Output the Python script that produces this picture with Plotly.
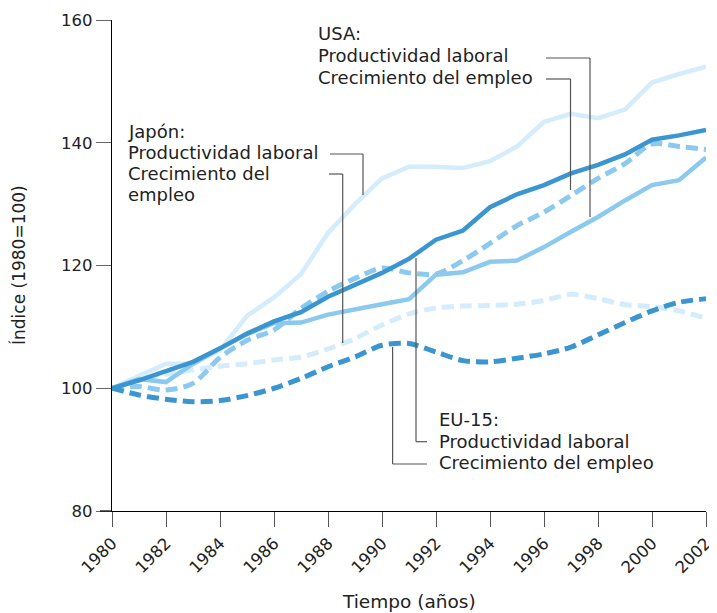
import plotly.graph_objects as go

years = list(range(1980, 2003))

# Japón
jp_productividad = [100, 102, 104, 104, 106.2, 111.8, 114.8, 118.6, 125.3, 130, 134.2, 136.1,
                    136.1, 135.9, 137, 139.4, 143.4, 144.7, 144, 145.4, 149.8, 151.2, 152.4]
jp_empleo = [100, 101.3, 102.3, 103, 103.6, 104, 104.6, 105.1, 106.4, 108.1, 110.3, 112.1,
             113.1, 113.4, 113.5, 113.7, 114.3, 115.3, 114.6, 113.6, 113.3, 112.6, 111.4]
# USA
us_productividad = [100, 101.5, 101, 104, 106.5, 108.8, 110.6, 110.7, 112, 112.9, 113.7, 114.5,
                    118.5, 118.9, 120.6, 120.8, 123, 125.5, 127.9, 130.6, 133.1, 133.9, 137.6]
us_empleo = [100, 100.3, 99.7, 100.8, 105, 107.8, 109.5, 113, 115.8, 117.9, 119.6, 118.8,
             118.6, 120.8, 123.6, 126.5, 128.7, 131.4, 134.2, 136.6, 139.8, 139.4, 138.9]
# EU-15
eu_productividad = [100, 101.3, 102.8, 104.3, 106.5, 108.9, 110.9, 112.4, 114.9, 116.8, 118.8, 121.1,
                    124.2, 125.7, 129.5, 131.6, 133.1, 135, 136.4, 138.1, 140.5, 141.2, 142.1]
eu_empleo = [100, 98.9, 98.2, 97.8, 98, 98.8, 100, 101.6, 103.5, 105.1, 107, 107.3,
             105.9, 104.5, 104.3, 104.9, 105.6, 106.7, 108.7, 110.7, 112.6, 114, 114.6]

x_ticks = list(range(1980, 2003, 2))
y_ticks = [80, 100, 120, 140, 160]

LIGHT = "#d4ecfb"
MED = "#8cc9ee"
DARK = "#3b96cf"

# page offset (default body margin) and window size
OFF = 8
WIN_W, WIN_H = 717, 613
FIG_W, FIG_H = WIN_W - OFF, WIN_H - OFF

# plot area geometry in window pixels
L, R, T, B = 112, 706, 20, 511
X0, X1, Y0, Y1 = 1980, 2002, 80, 160


def px_x(px):
    return X0 + (px - L) * (X1 - X0) / (R - L)


def px_y(py):
    return Y0 + (B - py) * (Y1 - Y0) / (B - T)


fig = go.Figure()

series = [
    (jp_productividad, LIGHT, False, "Japón productividad"),
    (jp_empleo, LIGHT, True, "Japón empleo"),
    (us_empleo, MED, True, "USA empleo"),
    (us_productividad, MED, False, "USA productividad"),
    (eu_empleo, DARK, True, "EU-15 empleo"),
    (eu_productividad, DARK, False, "EU-15 productividad"),
]
for vals, col, dashed, name in series:
    if dashed:
        line = dict(color=col, width=5, dash="12px,6px", shape="spline", smoothing=0.8)
    else:
        line = dict(color=col, width=4.5)
    fig.add_trace(go.Scatter(x=years, y=vals, mode="lines", line=line, name=name,
                             showlegend=False, hoverinfo="skip"))

FONT = "Verdana, DejaVu Sans, sans-serif"
TXT = "#222222"
CONN = "#555555"

# text labels (one per line)
labels = [
    (318, 33, "USA:"), (318, 55, "Productividad laboral"), (318, 77, "Crecimiento del empleo"),
    (128, 131, "Japón:"), (128, 152, "Productividad laboral"), (128, 173, "Crecimiento del"),
    (128, 194, "empleo"),
    (439, 419, "EU-15:"), (439, 441, "Productividad laboral"), (439, 462, "Crecimiento del empleo"),
]
for lx, ly, t in labels:
    fig.add_annotation(x=px_x(lx), y=px_y(ly), xref="x", yref="y", text=t, showarrow=False,
                       xanchor="left", yanchor="middle", xshift=-2,
                       font=dict(family=FONT, size=18, color=TXT))

# connector polylines (window pixel coordinates)
connectors = [
    [(546, 58), (590, 58), (590, 217)],     # USA productividad
    [(546, 79), (570.5, 79), (570.5, 190)],  # USA empleo
    [(330, 154), (363, 154), (363, 195)],   # Japón productividad
    [(329, 174), (342.7, 174), (342.7, 343)],  # Japón empleo
    [(416, 258), (416, 441.7), (427, 441.7)],  # EU productividad
    [(392.6, 347), (392.6, 464), (427, 464)],  # EU empleo
]
for pts in connectors:
    for (ax, ay), (bx, by) in zip(pts[:-1], pts[1:]):
        fig.add_shape(type="line", xref="x", yref="y", x0=px_x(ax), y0=px_y(ay),
                      x1=px_x(bx), y1=px_y(by), line=dict(color=CONN, width=1.2), layer="above")

# x-axis line extension to the left of the y axis
fig.add_shape(type="line", xref="paper", yref="paper", x0=(100 - L) / (R - L), x1=0, y0=0, y1=0,
              line=dict(color="#000", width=1.2))

# axis titles
fig.add_annotation(x=(409 - L) / (R - L), y=-(601 - B) / (B - T), xref="paper", yref="paper",
                   text="Tiempo (años)", showarrow=False, xanchor="center", yanchor="middle",
                   font=dict(family=FONT, size=18.5, color=TXT))
fig.add_annotation(x=(18 - L) / (R - L), y=(B - 265) / (B - T), xref="paper", yref="paper",
                   text="Índice (1980=100)", showarrow=False, textangle=-90,
                   xanchor="center", yanchor="middle", font=dict(family=FONT, size=17, color=TXT))

fig.update_layout(
    width=FIG_W, height=FIG_H,
    margin=dict(l=L - OFF, r=WIN_W - R, t=T - OFF, b=WIN_H - B, autoexpand=False),
    paper_bgcolor="white", plot_bgcolor="white",
    font=dict(family=FONT, size=16, color=TXT),
    xaxis=dict(range=[X0, X1], tickvals=x_ticks, ticktext=[str(v) for v in x_ticks],
               tickangle=-45, ticks="outside", ticklen=15, tickcolor="#555", tickwidth=1.2,
               showline=True, linecolor="#000", linewidth=1.2, showgrid=False, zeroline=False,
               automargin=False, tickfont=dict(family=FONT, size=16.5, color=TXT)),
    yaxis=dict(range=[Y0, Y1], tickvals=y_ticks, ticks="outside", ticklen=15, tickcolor="#666",
               tickwidth=1.2, showline=True, linecolor="#000", linewidth=1.2, showgrid=False,
               zeroline=False, automargin=False, tickfont=dict(family=FONT, size=16.5, color=TXT)),
)

fig.write_html("out.html")
